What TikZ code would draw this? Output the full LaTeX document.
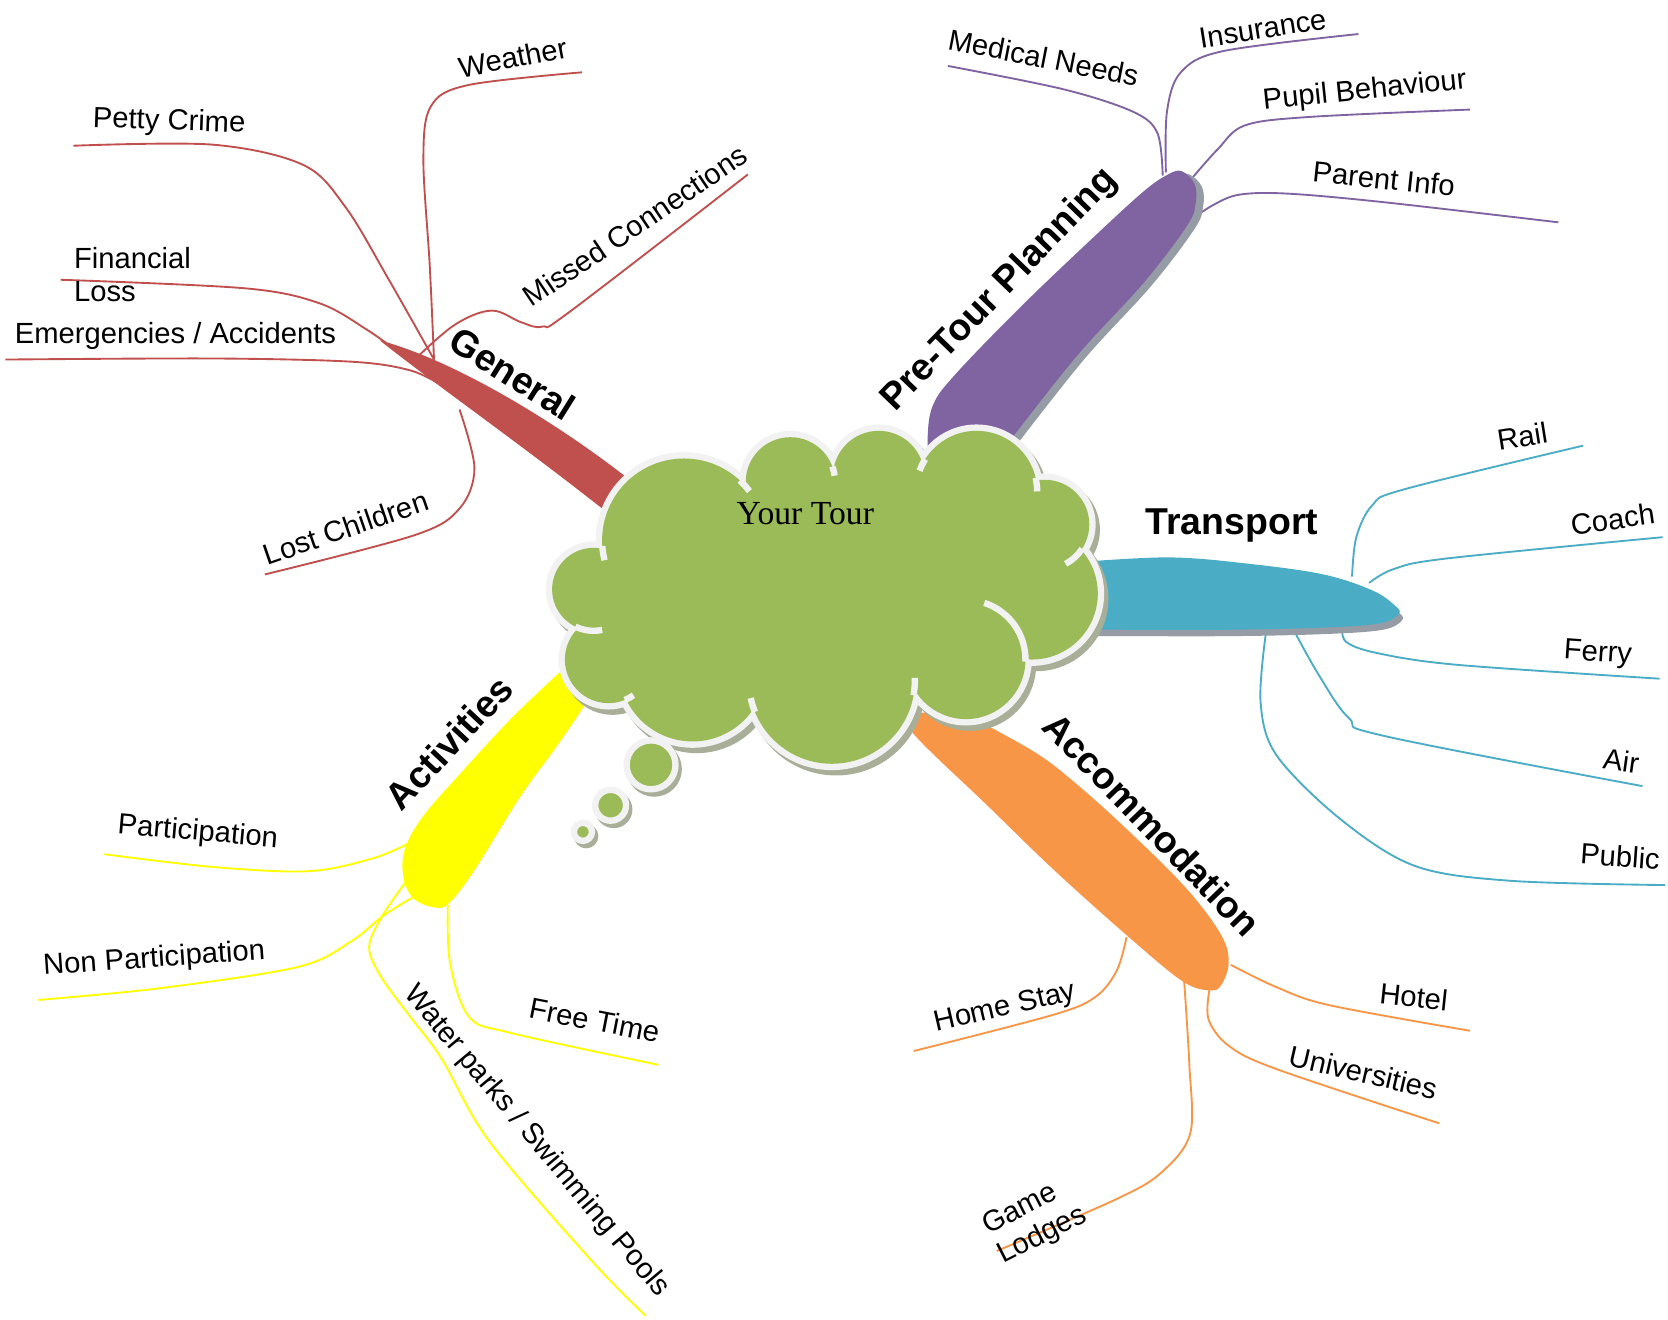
\documentclass[tikz,border=0pt]{standalone}
\usepackage{fontspec}
\setmainfont{Liberation Sans}
\newfontfamily\tourfont{Liberation Serif}
\usetikzlibrary{positioning}
\definecolor{gencol}{HTML}{C0504D}
\definecolor{precol}{HTML}{8064A2}
\definecolor{tracol}{HTML}{4BACC6}
\definecolor{acccol}{HTML}{F79646}
\definecolor{actcol}{HTML}{FFFF00}
\definecolor{cloudcol}{HTML}{9BBB59}
\definecolor{rimcol}{HTML}{F2F2F2}
\definecolor{shadecol}{RGB}{168,174,152}
\definecolor{leafshade}{RGB}{150,156,166}
\def\lobes{643/508/77, 743/453/42, 826/448/43, 918/462/57, 982/493/42, 970/558/62, 908/620/56, 782/640/78, 651/628/69, 572/620/41, 558/554/39}

\begin{document}
\begin{tikzpicture}[x=0.01cm, y=-0.01cm,
                sub/.style = {font=\fontsize{7.8}{8.8}\selectfont, inner sep=0pt},
                head/.style = {font=\bfseries\fontsize{10}{12}\selectfont, inner sep=0pt},
                twig/.style = {line width=0.5pt, line join=round},
                rim/.style = {draw=rimcol, line width=1.7pt}]
                \useasboundingbox (0,0) rectangle (1568,1240);

                \coordinate (weather-o) at (408,338);  \coordinate (weather-e) at (547,68);
                \coordinate (petty-o) at (408,338);    \coordinate (petty-e) at (69,137);
                \coordinate (missed-o) at (393,335);   \coordinate (missed-e) at (703,164);
                \coordinate (finance-o) at (380,335);  \coordinate (finance-e) at (57,263);
                \coordinate (emerg-o) at (415,362);    \coordinate (emerg-e) at (5,338);
                \coordinate (lost-o) at (432,385);     \coordinate (lost-e) at (249,540);
                \coordinate (medical-o) at (1093,165); \coordinate (medical-e) at (891,62);
                \coordinate (insur-o) at (1096,162);   \coordinate (insur-e) at (1277,32);
                \coordinate (pupil-o) at (1121,167);   \coordinate (pupil-e) at (1382,103);
                \coordinate (parent-o) at (1119,207);  \coordinate (parent-e) at (1465,209);
                \coordinate (rail-o) at (1271,542);    \coordinate (rail-e) at (1488,419);
                \coordinate (coach-o) at (1287,548);   \coordinate (coach-e) at (1563,505);
                \coordinate (ferry-o) at (1262,586);   \coordinate (ferry-e) at (1560,638);
                \coordinate (air-o) at (1216,592);     \coordinate (air-e) at (1544,739);
                \coordinate (public-o) at (1190,595);  \coordinate (public-e) at (1565,832);
                \coordinate (home-o) at (1059,881);    \coordinate (home-e) at (859,988);
                \coordinate (hotel-o) at (1157,907);   \coordinate (hotel-e) at (1382,969);
                \coordinate (uni-o) at (1137,930);     \coordinate (uni-e) at (1353,1056);
                \coordinate (game-o) at (1113,920);    \coordinate (game-e) at (937,1176);
                \coordinate (part-o) at (384,793);     \coordinate (part-e) at (98,803);
                \coordinate (nonpart-o) at (389,843);  \coordinate (nonpart-e) at (36,940);
                \coordinate (free-o) at (421,851);     \coordinate (free-e) at (619,1001);
                \coordinate (water-o) at (383,827);    \coordinate (water-e) at (607,1237);

                \draw[twig, gencol] plot[smooth, tension=0.55] coordinates {(weather-o) (404,250) (398,150) (405,100) (440,80) (weather-e)};
                \draw[twig, gencol] plot[smooth, tension=0.55] coordinates {(petty-o) (365,262) (325,195) (285,155) (200,136) (petty-e)};
                \draw[twig, gencol] plot[smooth, tension=0.6] coordinates {(missed-o) (428,305) (462,292) (490,303) (510,307) (537,292) (missed-e)};
                \draw[twig, gencol] plot[smooth, tension=0.55] coordinates {(finance-o) (345,310) (300,285) (230,271) (finance-e)};
                \draw[twig, gencol] plot[smooth, tension=0.55] coordinates {(emerg-o) (385,348) (330,340) (200,337) (emerg-e)};
                \draw[twig, gencol] plot[smooth, tension=0.55] coordinates {(lost-o) (446,440) (432,478) (390,503) (lost-e)};

                \draw[twig, precol] plot[smooth, tension=0.55] coordinates {(medical-o) (1088,125) (1065,105) (1000,84) (medical-e)};
                \draw[twig, precol] plot[smooth, tension=0.55] coordinates {(insur-o) (1097,105) (1110,68) (1150,48) (insur-e)};
                \draw[twig, precol] plot[smooth, tension=0.55] coordinates {(pupil-o) (1145,140) (1170,118) (1230,110) (pupil-e)};
                \draw[twig, precol] plot[smooth, tension=0.55] coordinates {(parent-o) (1140,193) (1165,183) (1210,182) (1300,190) (parent-e)};

                \draw[twig, tracol] plot[smooth, tension=0.55] coordinates {(rail-o) (1275,505) (1290,475) (1320,460) (rail-e)};
                \draw[twig, tracol] plot[smooth, tension=0.55] coordinates {(coach-o) (1310,535) (1360,525) (coach-e)};
                \draw[twig, tracol] plot[smooth, tension=0.55] coordinates {(ferry-o) (1265,603) (1295,614) (1370,625) (ferry-e)};
                \draw[twig, tracol] plot[smooth, tension=0.6] coordinates {(air-o) (1240,635) (1268,675) (1302,692) (air-e)};
                \draw[twig, tracol] plot[smooth, tension=0.55] coordinates {(public-o) (1185,660) (1200,710) (1260,770) (1330,814) (1420,828) (public-e)};

                \draw[twig, acccol] plot[smooth, tension=0.55] coordinates {(home-o) (1050,912) (1030,937) (990,954) (home-e)};
                \draw[twig, acccol] plot[smooth, tension=0.55] coordinates {(hotel-o) (1200,928) (1250,945) (hotel-e)};
                \draw[twig, acccol] plot[smooth, tension=0.55] coordinates {(uni-o) (1136,958) (1155,983) (1200,1005) (uni-e)};
                \draw[twig, acccol] plot[smooth, tension=0.55] coordinates {(game-o) (1118,1000) (1119,1065) (1092,1102) (1050,1127) (game-e)};

                \draw[twig, actcol] plot[smooth, tension=0.55] coordinates {(part-o) (350,807) (290,819) (200,815) (part-e)};
                \draw[twig, actcol] plot[smooth, tension=0.55] coordinates {(nonpart-o) (360,861) (330,885) (280,909) (150,929) (nonpart-e)};
                \draw[twig, actcol] plot[smooth, tension=0.55] coordinates {(free-o) (423,905) (441,956) (480,971) (free-e)};
                \draw[twig, actcol] plot[smooth, tension=0.55] coordinates {(water-o) (360,860) (347,890) (358,918) (385,955) (415,995) (460,1073) (556,1185) (water-e)};

                \fill[gencol] (357,320) .. controls (425,338) and (520,395) .. (588,448) -- (566,478) .. controls (490,418) and (410,362) .. cycle;
                \fill[leafshade, shift={(7,3)}] plot[smooth, tension=0.6] coordinates {(874,440) (872,412) (877,381) (898,352) (960,288) (1028,223) (1075,180) (1098,164) (1111,161) (1123,173) (1124,191) (1116,212) (1075,266) (1012,335) (945,420)} -- cycle;
                \fill[precol] plot[smooth, tension=0.6] coordinates {(874,440) (872,412) (877,381) (898,352) (960,288) (1028,223) (1075,180) (1098,164) (1111,161) (1123,173) (1124,191) (1116,212) (1075,266) (1012,335) (945,420)} -- cycle;
                \fill[leafshade, shift={(3,6)}] plot[smooth, tension=0.6] coordinates {(1020,528) (1100,524) (1174,530) (1244,540) (1290,555) (1311,569) (1315,577) (1297,586) (1244,590) (1156,592) (1050,592) (1020,592)} -- cycle;
                \fill[tracol] plot[smooth, tension=0.6] coordinates {(1020,528) (1100,524) (1174,530) (1244,540) (1290,555) (1311,569) (1315,577) (1297,586) (1244,590) (1156,592) (1050,592) (1020,592)} -- cycle;
                \fill[acccol] plot[smooth, tension=0.6] coordinates {(905,670) (971,706) (1012,737) (1064,784) (1116,836) (1148,879) (1155,905) (1148,926) (1137,931) (1111,922) (1059,879) (991,818) (929,758) (858,689) (855,670)} -- cycle;
                \fill[actcol] plot[smooth, tension=0.6] coordinates {(530,628) (525,633) (480,676) (432,728) (398,767) (381,797) (379,823) (388,844) (408,853) (422,849) (446,818) (489,749) (523,702) (550,662) (560,640)} -- cycle;

                \begin{scope}[shift={(4,5)}]
                \foreach \cx/\cy/\r in \lobes {\fill[shadecol] (\cx,\cy) circle[radius=\r+6];}
                \end{scope}
                \foreach \cx/\cy/\r in \lobes {\draw[rimcol, line width=3.4pt] (\cx,\cy) circle[radius=\r];}
                \foreach \cx/\cy/\r in \lobes {\fill[cloudcol] (\cx,\cy) circle[radius=\r];}
                \fill[cloudcol] (643,508) -- (743,453) -- (826,448) -- (918,462) -- (982,493) -- (970,558) -- (908,620) -- (782,640) -- (651,628) -- (572,620) -- (558,554) -- cycle;
                \foreach \cx/\cy/\r/\a/\b in {643/508/77/176/166, 643/508/77/313/323, 743/453/42/340/352, 918/462/57/212/200, 918/462/57/347/360, 982/493/42/33/62, 908/620/56/2/-72, 782/640/78/10/-2, 782/640/78/158/168, 572/620/41/68/55, 558/554/39/116/78}
                    {\draw[rim] (\cx,\cy) ++(\a:\r) arc[start angle=\a, end angle=\b, radius=\r];}
                \foreach \cx/\cy/\r in {612/719/23, 574/757/14.5, 548/782/8.5} {
                    \fill[shadecol] ({\cx+3},{\cy+4}) circle[radius=\r+3];
                    \draw[rim, fill=cloudcol] (\cx,\cy) circle[radius=\r];
                }
                \node[font=\tourfont\fontsize{9}{10}\selectfont, inner sep=0pt] (tour) at (757,483) {Your Tour};

                \node[head, rotate=-32] (general) at (482,351) {General};
                \node[head, rotate=46] (pretour) at (940,273) {Pre-Tour Planning};
                \node[head] (transport) at (1158,494) {Transport};
                \node[head, rotate=-46] (accommodation) at (1083,775) {Accommodation};
                \node[head, rotate=47] (activities) at (422,698) {Activities};

                \node[sub, rotate=11] (weather) at (482,54) {Weather};
                \node[sub, rotate=-2] (petty) at (159,115) {Petty Crime};
                \node[sub, rotate=34] (missed) at (597,212) {Missed Connections};
                \node[sub, align=left, anchor=west] (finance) at (69,258) {Financial\\Loss};
                \node[sub] (emerg) at (165,316) {Emergencies / Accidents};
                \node[sub, rotate=19] (lost) at (325,496) {Lost Children};
                \node[sub, rotate=-11] (medical) at (981,54) {Medical Needs};
                \node[sub, rotate=9] (insur) at (1187,27) {Insurance};
                \node[sub, rotate=6] (pupil) at (1283,86) {Pupil Behaviour};
                \node[sub, rotate=-6] (parent) at (1301,168) {Parent Info};
                \node[sub, rotate=9] (rail) at (1431,410) {Rail};
                \node[sub, rotate=8] (coach) at (1516,488) {Coach};
                \node[sub, rotate=-4] (ferry) at (1502,615) {Ferry};
                \node[sub, rotate=-8] (air) at (1524,715) {Air};
                \node[sub, rotate=-4] (public) at (1523,805) {Public};
                \node[sub, rotate=13] (home) at (945,948) {Home Stay};
                \node[sub, rotate=-6] (hotel) at (1329,937) {Hotel};
                \node[sub, rotate=-13] (uni) at (1282,1008) {Universities};
                \node[sub, align=left, rotate=27] (game) at (973,1148) {Game\\Lodges};
                \node[sub, rotate=-5] (part) at (186,783) {Participation};
                \node[sub, rotate=4] (nonpart) at (145,902) {Non Participation};
                \node[sub, rotate=-11] (free) at (559,959) {Free Time};
                \node[sub, rotate=-50] (water) at (504,1073) {Water parks / Swimming Pools};
            \end{tikzpicture}
\end{document}
